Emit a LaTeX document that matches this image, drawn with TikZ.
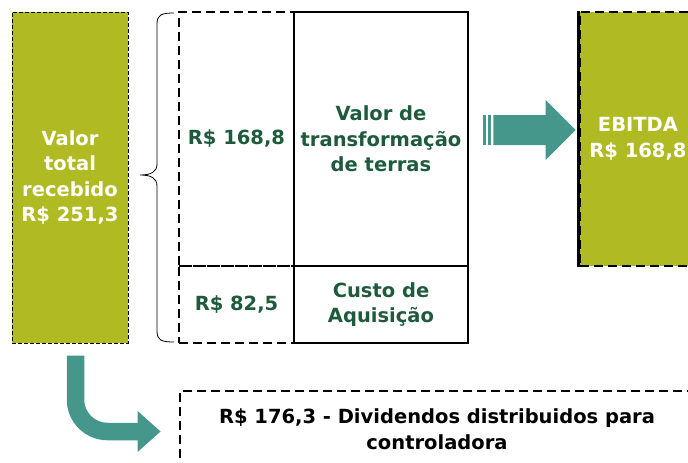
\documentclass[tikz,border=0pt]{standalone}
\usepackage{fontspec}
\setmainfont{DejaVu Sans}
\usetikzlibrary{calc}
\definecolor{oliva}{HTML}{B0BA22}
\definecolor{verdeesc}{HTML}{1E5B3C}
\definecolor{petroleo}{HTML}{45968B}

\begin{document}
\begin{tikzpicture}[x=1pt,y=-1pt,line join=miter,
  every node/.style={font=\fontsize{19.5}{25.5}\selectfont\bfseries,align=center,inner sep=0pt},
  tracejado/.style={draw=black,line width=2.9pt,dash pattern=on 9pt off 5pt},
  solido/.style={draw=black,line width=2.9pt},
  bloco/.style={fill=oliva,text=white},
  valor/.style={text=verdeesc},
  seta/.style={fill=petroleo}]
  \useasboundingbox (0,0) rectangle (688,463);
  \clip (0,0) rectangle (688,463);

  % --- valor total recebido ---
  \node[bloco,draw=black,line width=1pt,dash pattern=on 4pt off 2pt,
        minimum width=116pt,minimum height=331pt] (total) at (70,177.5)
        {Valor\\total\\recebido\\R\$ 251,3};

  % --- chave ---
  \draw[line width=0.8pt] (174,13) .. controls (161,13) and (157,15) .. (157,24)
        -- (157,164) .. controls (157,172) and (151,175) .. (140,175)
        .. controls (151,175) and (157,178) .. (157,186)
        -- (157,331) .. controls (157,340) and (161,342) .. (174,342);

  % --- decomposicao do valor ---
  \node[tracejado,valor,minimum width=115pt,minimum height=254pt] (ebitdaval) at (236.5,139) {R\$ 168,8};
  \node[tracejado,valor,minimum width=115pt,minimum height=77pt] (custoval) at (236.5,304.5) {R\$ 82,5};
  \node[solido,valor,minimum width=174pt,minimum height=254pt] (transf) at (381,139)
        {Valor de\\transformação\\de terras};
  \node[solido,valor,minimum width=174pt,minimum height=77pt] (custo) at (381,304.5)
        {Custo de\\Aquisição};

  % --- EBITDA ---
  \node[bloco,tracejado,minimum width=116pt,minimum height=254pt] (ebitda) at (638,139)
        {EBITDA\\R\$ 168,8};
  \draw[solido] (ebitda.north west) -- (ebitda.south west);

  % --- dividendos ---
  \node[tracejado,minimum width=514pt,minimum height=76pt] (divid) at (437,429)
        {R\$ 176,3 - Dividendos distribuidos para\\controladora};

  % --- seta reta: transformacao -> EBITDA ---
  \coordinate (s0) at ($(transf.east)+(14,-9)$);
  \coordinate (s1) at ($(ebitda.west)+(-3,-9)$);
  \fill[seta] ($(s0)+(0,-15)$) rectangle ($(s0)+(3,15)$);
  \fill[seta] ($(s0)+(5,-15)$) rectangle ($(s0)+(8,15)$);
  \fill[seta] ($(s0)+(10,-15)$) -- ($(s1)+(-30,-15)$) -- ($(s1)+(-30,-30)$) -- (s1)
        -- ($(s1)+(-30,30)$) -- ($(s1)+(-30,15)$) -- ($(s0)+(10,15)$) -- cycle;

  % --- seta curva: total -> dividendos ---
  \coordinate (c0) at ($(total.south)+(5.5,12)$);
  \coordinate (c1) at ($(divid.west)+(-41,2.5)$);
  \draw[petroleo,line width=17.5pt,rounded corners=32pt] (c0) |- ($(c1)+(2,0)$);
  \fill[seta] ($(c1)+(0,-20.5)$) -- ($(c1)+(23,0)$) -- ($(c1)+(0,20.5)$) -- cycle;
\end{tikzpicture}
\end{document}
